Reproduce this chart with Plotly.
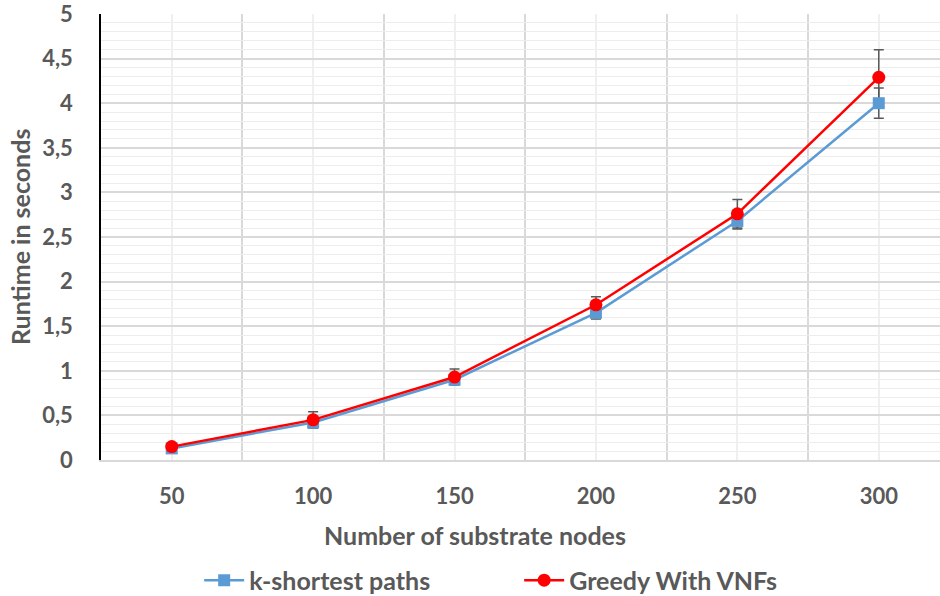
import plotly.graph_objects as go

categories = ["50", "100", "150", "200", "250", "300"]
k_shortest = [0.13, 0.42, 0.90, 1.65, 2.68, 4.00]
k_shortest_err = [0.03, 0.04, 0.05, 0.07, 0.09, 0.17]
greedy = [0.15, 0.45, 0.93, 1.74, 2.76, 4.29]
greedy_err = [0.03, 0.09, 0.09, 0.09, 0.16, 0.31]
y_tickvals = [0, 0.5, 1, 1.5, 2, 2.5, 3, 3.5, 4, 4.5, 5]
y_ticktext = ["0", "0,5", "1", "1,5", "2", "2,5", "3", "3,5", "4", "4,5", "5"]

xs = list(range(len(categories)))
FONT = "Lato"
GRAY = "#595959"

fig = go.Figure()
# red error bars drawn beneath everything else
fig.add_trace(go.Scatter(
    x=xs, y=greedy, mode="markers", marker=dict(size=0.1, color="rgba(0,0,0,0)"),
    error_y=dict(type="data", array=greedy_err, color=GRAY, thickness=1.5, width=5),
    showlegend=False, hoverinfo="skip"))
fig.add_trace(go.Scatter(
    x=xs, y=k_shortest, mode="lines+markers", name="k-shortest paths",
    line=dict(color="#5B9BD5", width=2.5),
    marker=dict(symbol="square", size=12, color="#5B9BD5"),
    error_y=dict(type="data", array=k_shortest_err, color=GRAY, thickness=1.5, width=5)))
fig.add_trace(go.Scatter(
    x=xs, y=greedy, mode="lines+markers", name="Greedy With VNFs",
    line=dict(color="#FF0000", width=2.5),
    marker=dict(symbol="circle", size=13, color="#FF0000")))

fig.update_layout(
    width=940, height=596,
    margin=dict(l=101, r=0, t=14, b=136, autoexpand=False),
    paper_bgcolor="white", plot_bgcolor="white",
    font=dict(family=FONT, color=GRAY, size=22),
    legend=dict(orientation="h", x=0.117, xanchor="left", y=-0.27, yanchor="middle",
                font=dict(family=FONT, size=25, color=GRAY, weight="bold"),
                entrywidth=265, entrywidthmode="pixels", itemwidth=40),
    xaxis=dict(
        range=[-0.5, 5.433], tickvals=xs, ticktext=categories,
        tickfont=dict(family=FONT, size=22, color=GRAY, weight="bold"),
        showgrid=True, gridcolor="#EFEFEF", gridwidth=1.5,
        minor=dict(tick0=0.5, dtick=1, showgrid=True, gridcolor="#D9D9D9", gridwidth=1.5),
        showline=True, linecolor="#D9D9D9", linewidth=2,
        zeroline=False, ticks="", ticklabelstandoff=16, automargin=False),
    yaxis=dict(
        range=[0, 5], tickvals=y_tickvals, ticktext=y_ticktext,
        tickfont=dict(family=FONT, size=22, color=GRAY, weight="bold"),
        showgrid=True, gridcolor="#D9D9D9", gridwidth=1.5,
        minor=dict(dtick=0.1, showgrid=True, gridcolor="#EDEDED", gridwidth=1),
        showline=True, linecolor="black", linewidth=1.5,
        zeroline=False, ticks="", ticklabelstandoff=22, automargin=False,
        ticklabeloverflow="allow"),
    annotations=[
        dict(text="Number of substrate nodes", xref="paper", yref="paper",
             x=(475 - 101) / 839, y=-(535 - 460) / 446, xanchor="center", yanchor="middle",
             showarrow=False, font=dict(family=FONT, size=25, color=GRAY, weight="bold")),
        dict(text="Runtime in seconds", xref="paper", yref="paper",
             x=-(101 - 20) / 839, y=0.5, xanchor="center", yanchor="middle", textangle=-90,
             showarrow=False, font=dict(family=FONT, size=25, color=GRAY, weight="bold")),
    ],
)

fig.write_html("out.html")
